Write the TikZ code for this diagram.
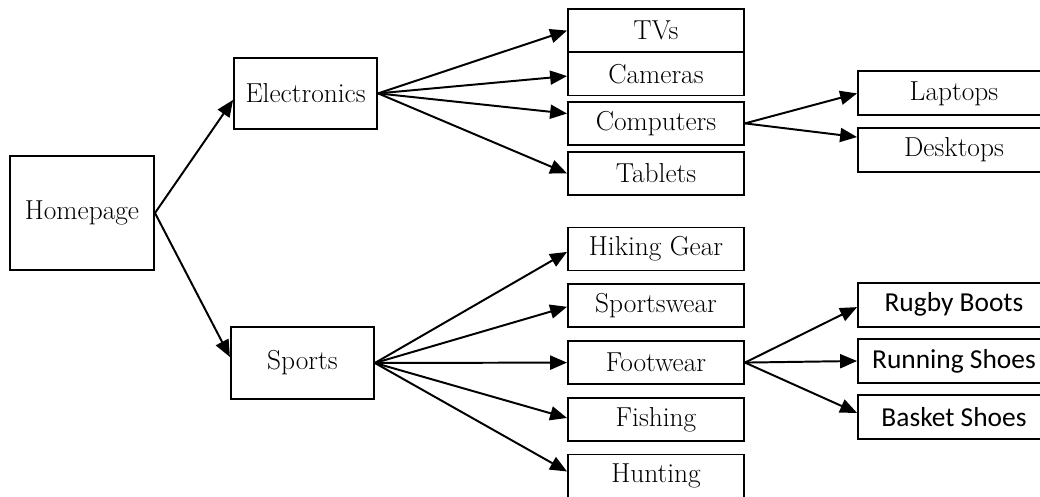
\documentclass[tikz,border=0pt]{standalone}
\usepackage{fontspec}
\newfontfamily\shoefont{Carlito}
\usetikzlibrary{arrows.meta}
\usetikzlibrary{positioning}

\tikzset{
    box/.style={draw, rectangle, line width=1.4pt, inner sep=0pt,
        minimum width=4.4cm, minimum height=1.075cm,
        font=\fontsize{19.5}{22}\selectfont},
    leaf/.style={box, minimum width=4.8cm, minimum height=1.1cm},
    link/.style={-{Triangle[length=12pt,width=10pt]}, line width=1.4pt}
}

\begin{document}
\begin{tikzpicture}
    \useasboundingbox (0,0) rectangle (26,12.425);

    \draw (2.05, 7.1) node[box,minimum width=3.6cm,minimum height=2.85cm] (home) {Homepage};
    \draw (7.64, 10.09) node[box,minimum width=3.575cm,minimum height=1.775cm] (elec) {Electronics};
    \draw (7.56, 3.35) node[box,minimum width=3.575cm,minimum height=1.8cm] (sport) {Sports};
    \draw[link] (home.east) -- ([yshift=-4.6pt]elec.west);
    \draw[link] (home.east) -- ([yshift=4.3pt]sport.west);

    % electronics branch
    \foreach \id/\ypos/\txt/\dy in {tv/11.66/TVs/0pt, cam/10.575/Cameras/-1.5pt,
            comp/9.34/Computers/7pt, tab/8.09/Tablets/0pt}{
        \draw (16.4, \ypos) node[box] (\id) {\txt};
        \draw[link] (elec.east) -- ([yshift=\dy]\id.west);
    }
    \foreach \id/\ypos/\txt/\dy in {lap/10.09/Laptops/0pt, desk/8.675/Desktops/9.2pt}{
        \draw (23.85, \ypos) node[leaf] (\id) {\txt};
        \draw[link] (comp.east) -- ([yshift=\dy]\id.west);
    }

    % sports branch
    \foreach \id/\ypos/\txt/\dy in {hike/6.2/Hiking Gear/-2.1pt, wear/4.79/Sportswear/-1pt,
            foot/3.36/Footwear/0pt, fish/1.94/Fishing/1pt, hunt/0.525/Hunting/3.2pt}{
        \draw (16.4, \ypos) node[box] (\id) {\txt};
        \draw[link] (sport.east) -- ([yshift=\dy]\id.west);
    }
    \foreach \id/\ypos/\txt/\dy in {rugby/4.81/Rugby Boots/-1.8pt, run/3.4/Running Shoes/0pt,
            basket/1.99/Basket Shoes/3.2pt}{
        \draw (23.85, \ypos) node[leaf,font=\shoefont\fontsize{19.5}{22}\selectfont] (\id) {\txt};
        \draw[link] (foot.east) -- ([yshift=\dy]\id.west);
    }
\end{tikzpicture}
\end{document}
